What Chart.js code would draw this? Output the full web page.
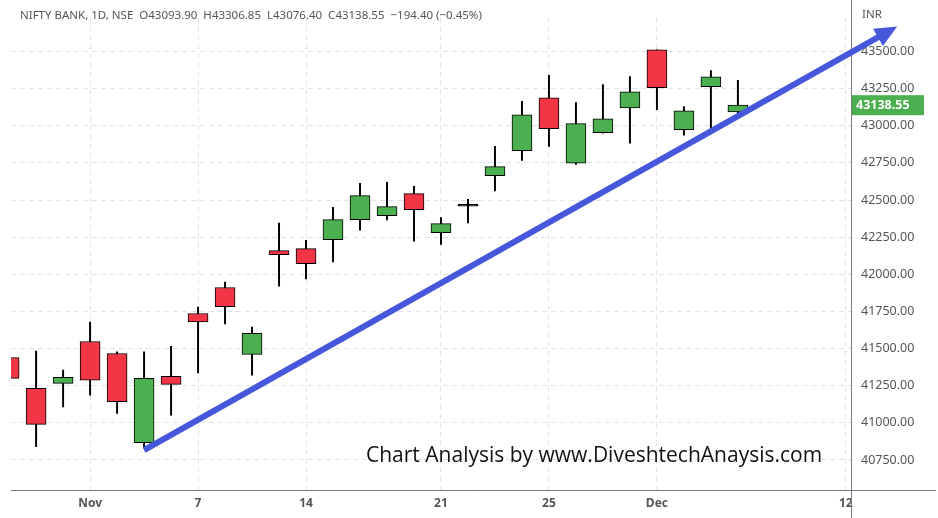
<!DOCTYPE html>
<html>
<head>
<meta charset="utf-8">
<script src="https://cdn.jsdelivr.net/npm/chart.js@4"></script>
<style>
  html, body { margin: 0; padding: 0; background: #fff; }
  #wrap { width: 938px; height: 518px; }
</style>
</head>
<body>
<div id="wrap"><canvas id="chart"></canvas></div>
<script>
// trading-day index (Nov 1 = 0), OHLC
const days   = [-3, -2, -1, 0, 1, 2, 3, 4, 5, 6, 7, 8, 9, 10, 11, 12, 13, 14, 15, 16, 17, 18, 19, 20, 21, 22, 23, 24];
const opens  = [41440, 41232, 41266, 41548, 41467, 40866, 41313, 41736, 41911, 41461, 42160, 42173, 42234, 42368, 42395, 42543, 42281, 42458, 42664, 42832, 43189, 42749, 42953, 43121, 43511, 42973, 43263, 43093.90];
const highs  = [41460, 41483, 41355, 41678, 41478, 41478, 41516, 41779, 41947, 41644, 42345, 42229, 42451, 42612, 42619, 42592, 42382, 42505, 42861, 43164, 43339, 43157, 43278, 43332, 43511, 43130, 43372, 43306.85];
const lows   = [41290, 40839, 41108, 41187, 41064, 40839, 41052, 41337, 41666, 41321, 41920, 41969, 42083, 42298, 42366, 42224, 42202, 42346, 42561, 42767, 42861, 42740, 42950, 42883, 43108, 42937, 42980, 43076.40];
const closes = [41299, 40990, 41306, 41288, 41142, 41299, 41259, 41680, 41783, 41602, 42133, 42072, 42368, 42530, 42456, 42436, 42341, 42462, 42725, 43074, 42980, 43014, 43047, 43229, 43256, 43101, 43330, 43138.55];

const dateTicks  = [0, 4, 8, 13, 17, 21, 28];
const dateLabels = ['Nov', '7', '14', '21', '25', 'Dec', '12'];
const priceTicks = [40750, 41000, 41250, 41500, 41750, 42000, 42250, 42500, 42750, 43000, 43250, 43500];

const green = '#4caf50', red = '#f23645';
const bodyColors = days.map((d, i) => {
  if (Math.abs(closes[i] - opens[i]) < 10) return '#000';
  return closes[i] >= opens[i] ? green : red;
});

const overlay = {
  id: 'overlay',
  afterDraw(chart) {
    const c = chart.ctx, x = chart.scales.x, y = chart.scales.y;
    c.save();
    // axis lines
    c.strokeStyle = '#787b86'; c.lineWidth = 1;
    c.beginPath();
    c.moveTo(chart.chartArea.right + 0.5, 0); c.lineTo(chart.chartArea.right + 0.5, 518);
    c.moveTo(chart.chartArea.left, chart.chartArea.bottom + 0.5); c.lineTo(936, chart.chartArea.bottom + 0.5);
    c.stroke();
    // header
    c.fillStyle = '#555'; c.font = '11.5px "Noto Sans", sans-serif';
    c.textBaseline = 'middle';
    c.fillText('NIFTY BANK, 1D, NSE  O43093.90  H43306.85  L43076.40  C43138.55  \u2212194.40 (\u22120.45%)', 20, 16);
    c.fillText('INR', 862, 15);
    // last price label
    const last = closes[closes.length - 1];
    const ly = y.getPixelForValue(last);
    c.fillStyle = green;
    c.fillRect(chart.chartArea.right + 1, ly - 10, 72, 20);
    c.fillStyle = '#fff'; c.font = 'bold 12.5px "Noto Sans", sans-serif';
    c.fillText(last.toFixed(2), 856, ly);
    // trend arrow
    const x0 = x.getPixelForValue(2), y0 = y.getPixelForValue(40817);
    const x1 = x.getPixelForValue(29.9), y1 = y.getPixelForValue(43668);
    const ang = Math.atan2(y1 - y0, x1 - x0);
    c.strokeStyle = '#4657dc'; c.lineWidth = 6; c.lineCap = 'butt';
    c.beginPath(); c.moveTo(x0, y0);
    c.lineTo(x1 - 14 * Math.cos(ang), y1 - 14 * Math.sin(ang)); c.stroke();
    c.fillStyle = '#4657dc';
    c.beginPath(); c.moveTo(x1, y1);
    c.lineTo(x1 - 22 * Math.cos(ang) + 10 * Math.sin(ang), y1 - 22 * Math.sin(ang) - 10 * Math.cos(ang));
    c.lineTo(x1 - 22 * Math.cos(ang) - 10 * Math.sin(ang), y1 - 22 * Math.sin(ang) + 10 * Math.cos(ang));
    c.closePath(); c.fill();
    // watermark
    c.fillStyle = '#111'; c.font = '21px "Open Sans", sans-serif';
    c.textBaseline = 'alphabetic';
    c.fillText('Chart Analysis by www.DiveshtechAnaysis.com', 366, 462);
    c.restore();
  }
};

new Chart(document.getElementById('chart'), {
  type: 'bar',
  data: {
    datasets: [
      {
        label: 'wick',
        data: days.map((d, i) => ({ x: d, y: [lows[i], highs[i]] })),
        backgroundColor: '#000',
        barThickness: 1.3,
        grouped: false,
        order: 2
      },
      {
        label: 'body',
        data: days.map((d, i) => ({ x: d, y: [opens[i], closes[i]] })),
        backgroundColor: bodyColors,
        borderColor: '#000',
        borderWidth: 1,
        borderSkipped: false,
        barThickness: 20,
        minBarLength: 2,
        grouped: false,
        order: 1
      }
    ]
  },
  plugins: [overlay],
  options: {
    responsive: true,
    maintainAspectRatio: false,
    animation: false,
    layout: { padding: { left: 11, top: 0, right: 0, bottom: 0 } },
    plugins: { legend: { display: false }, tooltip: { enabled: false } },
    scales: {
      x: {
        type: 'linear',
        offset: false,
        min: -2.93,
        max: 28.19,
        afterBuildTicks: s => { s.ticks = dateTicks.map(v => ({ value: v })); },
        afterFit: s => { s.height = 28; },
        ticks: {
          autoSkip: false,
          maxRotation: 0,
          color: '#555',
          font: { family: '"Noto Sans", sans-serif', size: 12, weight: 'bold' },
          padding: 6,
          callback: v => dateLabels[dateTicks.indexOf(v)]
        },
        grid: { color: '#e0e3eb', drawTicks: false, offset: false },
        border: { display: false, dash: [5, 4] }
      },
      y: {
        position: 'right',
        min: 40548,
        max: 43729,
        afterBuildTicks: s => { s.ticks = priceTicks.map(v => ({ value: v })); },
        afterFit: s => { s.width = 87; },
        ticks: {
          color: '#555',
          font: { family: '"Noto Sans", sans-serif', size: 12.5 },
          padding: 10,
          callback: v => v.toFixed(2)
        },
        grid: { color: '#e0e3eb', drawTicks: false },
        border: { display: false, dash: [5, 4] }
      }
    }
  }
});
</script>
</body>
</html>
